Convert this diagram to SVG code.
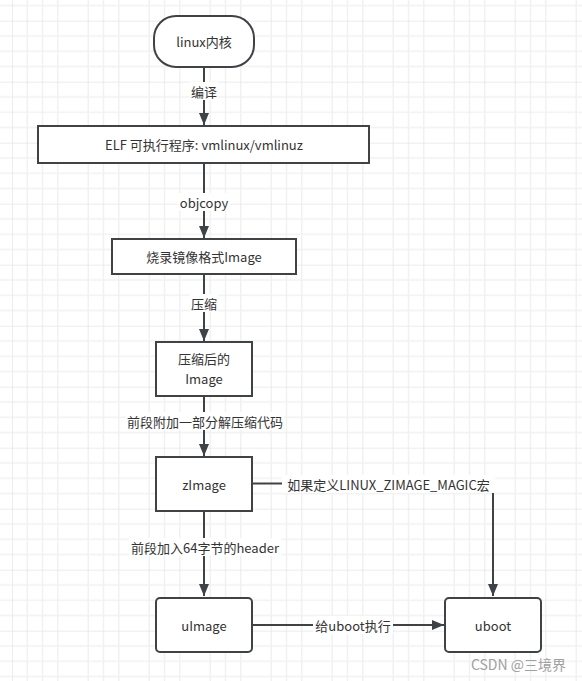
<svg xmlns="http://www.w3.org/2000/svg" width="582" height="681" viewBox="0 0 582 681">
<style>
.node{fill:#ffffff;stroke:#3f4246;stroke-width:2}
.t{font-family:"Noto Sans CJK SC","Liberation Sans",sans-serif;font-size:13px;fill:#333333;text-anchor:middle;dominant-baseline:central}
.edge{fill:none;stroke:#3f4246;stroke-width:2}
.lbg{fill:#ffffff}
.wm{font-family:"Noto Sans CJK SC","Liberation Sans",sans-serif;font-size:14px;fill:#a0a0a0;text-anchor:end;dominant-baseline:central}
</style>
<defs>
<pattern id="grid" x="12" y="20.7" width="61" height="61" patternUnits="userSpaceOnUse">
<path d="M15.25 0V61M30.5 0V61M45.75 0V61M0 15.25H61M0 30.5H61M0 45.75H61" stroke="#f1f1f1" stroke-width="1.5"/>
<path d="M0 0V61M0 0H61" stroke="#e6e6e6" stroke-width="1.5"/>
</pattern>
<marker id="arr" markerUnits="userSpaceOnUse" markerWidth="12" markerHeight="10" refX="12" refY="5" orient="auto">
<path d="M0 0L12 5L0 10Z" fill="#3f4246"/>
</marker>
</defs>
<rect width="582" height="681" fill="#ffffff"/>
<rect width="582" height="681" fill="url(#grid)"/>

<g id="edges">
<path class="edge" d="M204 67V125" marker-end="url(#arr)"/>
<path class="edge" d="M204 163V238" marker-end="url(#arr)"/>
<path class="edge" d="M204 274V341" marker-end="url(#arr)"/>
<path class="edge" d="M204 396V456" marker-end="url(#arr)"/>
<path class="edge" d="M204 511V596" marker-end="url(#arr)"/>
<path class="edge" d="M252 483.5H493V596" marker-end="url(#arr)"/>
<path class="edge" d="M252 625H444" marker-end="url(#arr)"/>
<g id="edge-labels">
<rect class="lbg" x="190" y="82" width="28" height="18"/>
<text class="t" x="204" y="91">编译</text>
<rect class="lbg" x="178" y="193" width="52" height="18"/>
<text class="t" x="204" y="202">objcopy</text>
<rect class="lbg" x="190" y="294" width="28" height="18"/>
<text class="t" x="204" y="303">压缩</text>
<rect class="lbg" x="126" y="412" width="158" height="18"/>
<text class="t" x="205" y="421">前段附加一部分解压缩代码</text>
<rect class="lbg" x="282" y="475" width="213" height="18"/>
<text class="t" x="388.5" y="484">如果定义LINUX_ZIMAGE_MAGIC宏</text>
<rect class="lbg" x="129" y="538" width="152" height="18"/>
<text class="t" x="205" y="547">前段加入64字节的header</text>
<rect class="lbg" x="313" y="616" width="80" height="18"/>
<text class="t" x="353" y="625">给uboot执行</text>
</g>
</g>

<g id="n-linux">
<rect class="node" x="154" y="16" width="100" height="51" rx="22" ry="22"/>
<text class="t" x="204" y="41.5">linux内核</text>
</g>
<g id="n-elf">
<rect class="node" x="38" y="126" width="331" height="37"/>
<text class="t" x="204" y="144.5">ELF 可执行程序: vmlinux/vmlinuz</text>
</g>
<g id="n-image">
<rect class="node" x="112" y="239" width="184" height="35"/>
<text class="t" x="204" y="256.5">烧录镜像格式Image</text>
</g>
<g id="n-compressed">
<rect class="node" x="156" y="342" width="96" height="54"/>
<text class="t" x="204" y="358">压缩后的</text>
<text class="t" x="204" y="378">Image</text>
</g>
<g id="n-zimage">
<rect class="node" x="156" y="457" width="96" height="54"/>
<text class="t" x="204" y="484">zImage</text>
</g>
<g id="n-uimage">
<rect class="node" x="156" y="598" width="96" height="54" rx="4" ry="4"/>
<text class="t" x="204" y="625">uImage</text>
</g>
<g id="n-uboot">
<rect class="node" x="445" y="598" width="96" height="54" rx="4" ry="4"/>
<text class="t" x="493" y="625">uboot</text>
</g>
<text class="wm" x="566" y="664">CSDN @三境界</text>
</svg>
